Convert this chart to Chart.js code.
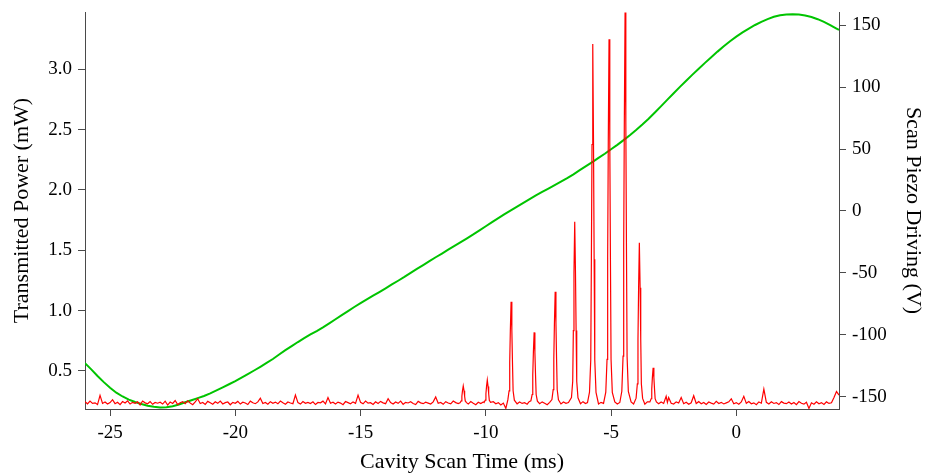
<!DOCTYPE html>
<html>
<head>
<meta charset="utf-8">
<title>Cavity scan transmission</title>
<script src="https://cdn.jsdelivr.net/npm/chart.js@4/dist/chart.umd.min.js"></script>
<style>
  html, body { margin: 0; padding: 0; background: #ffffff; }
  #wrap { width: 925px; height: 473px; }
</style>
</head>
<body>
<div id="wrap"><canvas id="scan" width="925" height="473"></canvas></div>
<script>
// Transmitted power through the cavity (mW) versus scan time (ms)
const redTime = [
  -26.0,-25.9,-25.8,-25.7,-25.6,-25.5,-25.4,-25.3,-25.2,-25.1,
  -25.0,-24.9,-24.8,-24.7,-24.6,-24.5,-24.4,-24.3,-24.2,-24.1,
  -24.0,-23.9,-23.8,-23.7,-23.6,-23.5,-23.4,-23.3,-23.2,-23.1,
  -23.0,-22.9,-22.8,-22.7,-22.6,-22.5,-22.4,-22.3,-22.2,-22.1,
  -22.0,-21.9,-21.8,-21.7,-21.6,-21.5,-21.4,-21.3,-21.2,-21.1,
  -21.0,-20.9,-20.8,-20.7,-20.6,-20.5,-20.4,-20.3,-20.2,-20.1,
  -20.0,-19.9,-19.8,-19.7,-19.6,-19.5,-19.4,-19.3,-19.2,-19.1,
  -19.0,-18.9,-18.8,-18.7,-18.6,-18.5,-18.4,-18.3,-18.2,-18.1,
  -18.0,-17.9,-17.8,-17.7,-17.6,-17.5,-17.4,-17.3,-17.2,-17.1,
  -17.0,-16.9,-16.8,-16.7,-16.6,-16.5,-16.4,-16.3,-16.2,-16.1,
  -16.0,-15.9,-15.8,-15.7,-15.6,-15.5,-15.4,-15.3,-15.2,-15.1,
  -15.0,-14.9,-14.8,-14.7,-14.6,-14.5,-14.4,-14.3,-14.2,-14.1,
  -14.0,-13.9,-13.8,-13.7,-13.6,-13.5,-13.4,-13.3,-13.2,-13.1,
  -13.0,-12.9,-12.8,-12.7,-12.6,-12.5,-12.4,-12.3,-12.2,-12.1,
  -12.0,-11.9,-11.8,-11.7,-11.6,-11.5,-11.4,-11.3,-11.2,-11.1,
  -11.03,-10.98,-10.955,-10.93,-10.9,-10.87,-10.845,-10.82,-10.77,-10.7,-10.6,-10.5,-10.4,-10.3,-10.2,-10.1,
  -10.07,-10.02,-9.995,-9.97,-9.94,-9.91,-9.885,-9.86,-9.81,-9.7,-9.6,-9.5,-9.4,-9.3,-9.2,
  -9.12,-9.07,-9.045,-9.02,-8.99,-8.96,-8.935,-8.91,-8.86,-8.75,-8.65,-8.55,-8.45,-8.35,-8.27,
  -8.2,-8.15,-8.125,-8.1,-8.07,-8.04,-8.015,-7.99,-7.94,-7.85,-7.75,-7.65,-7.55,-7.45,
  -7.36,-7.31,-7.285,-7.26,-7.23,-7.2,-7.175,-7.15,-7.1,-7.0,-6.9,-6.8,-6.7,
  -6.58,-6.53,-6.505,-6.48,-6.45,-6.42,-6.395,-6.37,-6.32,-6.22,-6.12,-6.02,-5.94,
  -5.86,-5.81,-5.785,-5.76,-5.73,-5.7,-5.675,-5.65,-5.6,-5.5,-5.4,-5.3,
  -5.21,-5.16,-5.135,-5.11,-5.08,-5.05,-5.025,-5.0,-4.95,-4.85,-4.75,-4.65,
  -4.57,-4.52,-4.495,-4.47,-4.44,-4.41,-4.385,-4.36,-4.31,-4.2,-4.1,
  -4.0,-3.95,-3.925,-3.9,-3.87,-3.84,-3.815,-3.79,-3.74,-3.65,-3.55,
  -3.45,-3.4,-3.375,-3.35,-3.32,-3.29,-3.265,-3.24,-3.19,-3.1,-3.0,
  -2.9,-2.8,-2.75,-2.7,-2.6,-2.5,-2.4,-2.3,-2.2,-2.1,
  -2.0,-1.9,-1.8,-1.7,-1.6,-1.5,-1.4,-1.3,-1.2,-1.1,
  -1.0,-0.9,-0.8,-0.7,-0.6,-0.5,-0.4,-0.3,-0.2,-0.1,
  0.0,0.1,0.2,0.3,0.4,0.5,0.6,0.7,0.8,0.9,
  1.0,1.1,1.2,1.3,1.4,1.5,1.6,1.7,1.8,1.9,
  2.0,2.1,2.2,2.3,2.4,2.5,2.6,2.7,2.8,2.9,
  3.0,3.1,3.2,3.3,3.4,3.5,3.6,3.7,3.8,3.9,
  4.0,4.1
];
const redPower = [
  0.245,0.228,0.251,0.232,0.236,0.222,0.298,0.231,0.243,0.226,
  0.238,0.262,0.229,0.241,0.221,0.247,0.235,0.253,0.226,0.240,
  0.232,0.244,0.219,0.251,0.236,0.228,0.247,0.224,0.239,0.233,
  0.241,0.226,0.250,0.218,0.243,0.231,0.255,0.222,0.237,0.246,
  0.229,0.252,0.234,0.221,0.244,0.270,0.231,0.239,0.223,0.248,
  0.236,0.224,0.245,0.232,0.251,0.227,0.238,0.243,0.220,0.240,
  0.233,0.248,0.226,0.241,0.235,0.222,0.250,0.237,0.229,0.244,
  0.275,0.231,0.239,0.225,0.246,0.233,0.242,0.228,0.251,0.236,
  0.224,0.243,0.235,0.229,0.300,0.238,0.226,0.247,0.232,0.240,
  0.231,0.245,0.222,0.239,0.236,0.250,0.227,0.280,0.233,0.241,
  0.226,0.242,0.234,0.221,0.247,0.238,0.229,0.244,0.232,0.300,
  0.240,0.228,0.250,0.233,0.237,0.223,0.245,0.231,0.248,0.236,
  0.229,0.270,0.238,0.226,0.243,0.232,0.250,0.224,0.240,0.235,
  0.245,0.231,0.222,0.248,0.236,0.229,0.241,0.234,0.226,0.244,
  0.285,0.232,0.239,0.224,0.246,0.235,0.228,0.251,0.238,0.230,
  0.236,0.252,0.291,0.337,0.376,0.337,0.291,0.252,0.238,0.226,0.247,0.233,0.221,0.241,0.230,0.244,
  0.239,0.258,0.311,0.372,0.425,0.372,0.311,0.258,0.240,0.245,0.229,0.238,0.218,0.234,0.190,
  0.260,0.336,0.571,0.839,1.074,0.839,0.571,0.336,0.258,0.228,0.243,0.231,0.237,0.225,0.246,
  0.253,0.305,0.469,0.656,0.820,0.656,0.469,0.305,0.250,0.229,0.244,0.233,0.221,0.240,
  0.263,0.346,0.604,0.899,1.157,0.899,0.604,0.346,0.262,0.227,0.243,0.232,0.238,
  0.280,0.415,0.835,1.316,1.736,1.316,0.835,0.415,0.278,0.229,0.246,0.231,0.238,
  0.324,0.592,1.425,2.377,3.210,2.377,1.425,0.592,0.322,0.227,0.240,0.232,
  0.325,0.597,1.441,2.406,3.250,2.406,1.441,0.597,0.323,0.244,0.226,0.239,
  0.332,0.623,1.529,2.564,3.470,2.564,1.529,0.623,0.330,0.243,0.227,
  0.275,0.394,0.766,1.190,1.562,1.190,0.766,0.394,0.273,0.225,0.244,
  0.244,0.270,0.352,0.445,0.527,0.445,0.352,0.270,0.243,0.228,0.243,
  0.231,0.290,0.240,0.280,0.232,0.226,0.244,0.235,0.280,0.229,
  0.241,0.225,0.237,0.295,0.231,0.246,0.228,0.239,0.222,0.243,
  0.234,0.226,0.248,0.231,0.240,0.227,0.236,0.245,0.270,0.229,
  0.238,0.225,0.243,0.290,0.232,0.247,0.228,0.236,0.221,0.244,
  0.233,0.350,0.240,0.227,0.245,0.231,0.238,0.222,0.246,0.234,
  0.229,0.243,0.226,0.239,0.221,0.247,0.232,0.225,0.241,0.190,
  0.236,0.224,0.245,0.229,0.238,0.222,0.244,0.231,0.236,0.280,
  0.330,0.300
];

// Voltage applied to the scanning piezo (V) versus scan time (ms)
const greenTime = [
  -26.0,-25.75,-25.5,-25.25,-25.0,-24.75,-24.5,-24.25,
  -24.0,-23.75,-23.5,-23.25,-23.0,-22.75,-22.5,-22.25,
  -22.0,-21.75,-21.5,-21.25,-21.0,-20.75,-20.5,-20.25,
  -20.0,-19.75,-19.5,-19.25,-19.0,-18.75,-18.5,-18.25,
  -18.0,-17.75,-17.5,-17.25,-17.0,-16.75,-16.5,-16.25,
  -16.0,-15.75,-15.5,-15.25,-15.0,-14.75,-14.5,-14.25,
  -14.0,-13.75,-13.5,-13.25,-13.0,-12.75,-12.5,-12.25,
  -12.0,-11.75,-11.5,-11.25,-11.0,-10.75,-10.5,-10.25,
  -10.0,-9.75,-9.5,-9.25,-9.0,-8.75,-8.5,-8.25,
  -8.0,-7.75,-7.5,-7.25,-7.0,-6.75,-6.5,-6.25,
  -6.0,-5.75,-5.5,-5.25,-5.0,-4.75,-4.5,-4.25,
  -4.0,-3.75,-3.5,-3.25,-3.0,-2.75,-2.5,-2.25,
  -2.0,-1.75,-1.5,-1.25,-1.0,-0.75,-0.5,-0.25,
  0.0,0.25,0.5,0.75,1.0,1.25,1.5,1.75,
  2.0,2.25,2.5,2.75,3.0,3.25,3.5,3.75,
  4.0,4.1
];
const greenVolts = [
  -123.0,-128.0,-133.3,-138.3,-142.8,-146.8,-149.9,-152.4,
  -154.3,-156.0,-157.3,-158.2,-158.7,-158.6,-157.8,-156.4,
  -154.6,-152.9,-151.2,-149.5,-147.4,-145.0,-142.5,-140.0,
  -137.4,-134.6,-131.8,-128.9,-125.9,-122.8,-119.6,-116.0,
  -112.5,-109.2,-105.9,-102.8,-99.8,-97.0,-94.0,-90.8,
  -87.5,-84.2,-80.9,-77.6,-74.5,-71.5,-68.5,-65.5,
  -62.5,-59.4,-56.4,-53.3,-50.0,-46.8,-43.7,-40.6,
  -37.4,-34.4,-31.3,-28.3,-25.2,-22.1,-19.0,-15.7,
  -12.4,-9.1,-5.8,-2.6,0.5,3.5,6.5,9.5,
  12.5,15.3,18.1,20.9,23.7,26.5,29.6,32.9,
  36.2,39.4,42.8,46.2,49.8,53.4,57.2,61.2,
  65.4,69.8,74.5,79.5,84.7,89.9,95.1,100.2,
  105.2,110.1,114.9,119.6,124.2,128.7,133.0,137.1,
  140.8,144.2,147.3,150.2,152.8,155.0,156.8,158.1,
  158.7,158.9,158.6,157.8,156.6,154.9,152.7,150.1,
  147.3,146.2
];

const timeTicks = [-25, -20, -15, -10, -5, 0];
const powerTicks = [0.5, 1.0, 1.5, 2.0, 2.5, 3.0];
const voltTicks = [-150, -100, -50, 0, 50, 100, 150];

const serif = "'Liberation Serif', 'Times New Roman', serif";
const axisColor = '#4a4a4a';
const tickFont = { family: serif, size: 19, lineHeight: 1.2 };
const titleFont = { family: serif, size: 22, lineHeight: 1.0 };

function pairs(xs, ys) {
  return xs.map((x, i) => ({ x: x, y: ys[i] }));
}
function fixedTicks(list) {
  return function (scale) { scale.ticks = list.map(v => ({ value: v })); };
}
function sizeBox(w, h) {
  return function (scale) {
    if (w !== null) scale.width = w;
    if (h !== null) scale.height = h;
    scale.paddingTop = 0; scale.paddingBottom = 0;
    scale.paddingLeft = 0; scale.paddingRight = 0;
  };
}
const gridStyle = { drawOnChartArea: false, drawTicks: true, tickLength: 7, color: axisColor, tickColor: axisColor, lineWidth: 1 };
const borderStyle = { display: true, color: axisColor, width: 1 };

new Chart(document.getElementById('scan'), {
  type: 'line',
  data: {
    datasets: [
      {
        label: 'Transmitted Power',
        data: pairs(redTime, redPower),
        yAxisID: 'yPower',
        borderColor: '#ff0000',
        borderWidth: 1.2,
        pointRadius: 0,
        tension: 0,
        fill: false
      },
      {
        label: 'Scan Piezo Driving',
        data: pairs(greenTime, greenVolts),
        yAxisID: 'yVolt',
        borderColor: '#00c400',
        borderWidth: 2,
        pointRadius: 0,
        tension: 0,
        fill: false
      }
    ]
  },
  options: {
    responsive: false,
    animation: false,
    events: [],
    layout: { padding: { top: 12, left: 0, right: 0, bottom: 0 } },
    plugins: { legend: { display: false }, tooltip: { enabled: false } },
    scales: {
      x: {
        type: 'linear',
        position: 'bottom',
        min: -26.0,
        max: 4.1,
        afterBuildTicks: fixedTicks(timeTicks),
        afterFit: sizeBox(null, 64),
        grid: gridStyle,
        border: borderStyle,
        ticks: { color: '#000', font: tickFont, padding: 6, maxRotation: 0, autoSkip: false,
                 callback: v => String(v) },
        title: { display: true, text: 'Cavity Scan Time (ms)', color: '#000', font: titleFont,
                 padding: { top: 0, bottom: 0 } }
      },
      yPower: {
        type: 'linear',
        position: 'left',
        min: 0.185,
        max: 3.475,
        afterBuildTicks: fixedTicks(powerTicks),
        afterFit: sizeBox(85, null),
        grid: gridStyle,
        border: borderStyle,
        ticks: { color: '#000', font: tickFont, padding: 6, autoSkip: false,
                 callback: v => Number(v).toFixed(1) },
        title: { display: true, text: 'Transmitted Power (mW)', color: '#000', font: titleFont,
                 padding: { top: 11, bottom: 0 } }
      },
      yVolt: {
        type: 'linear',
        position: 'right',
        min: -160.0,
        max: 160.7,
        afterBuildTicks: fixedTicks(voltTicks),
        afterFit: sizeBox(86, null),
        grid: gridStyle,
        border: borderStyle,
        ticks: { color: '#000', font: tickFont, padding: 6, autoSkip: false,
                 callback: v => String(v) },
        title: { display: true, text: 'Scan Piezo Driving (V)', color: '#000', font: titleFont,
                 padding: { top: 1.5, bottom: 0 } }
      }
    }
  }
});
</script>
</body>
</html>
